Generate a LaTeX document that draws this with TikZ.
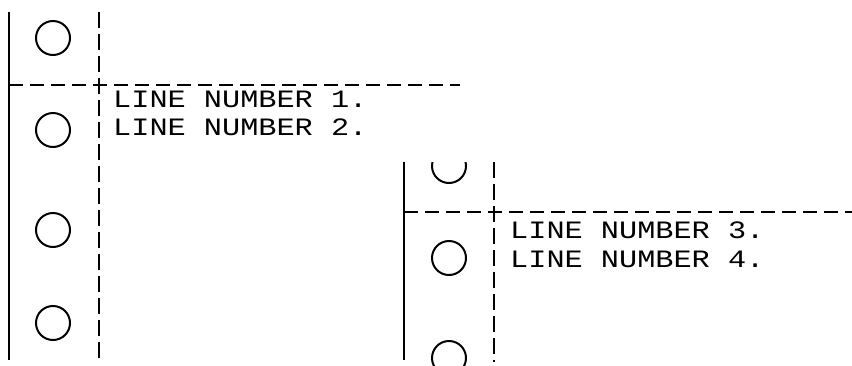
\documentclass[tikz,border=0pt]{standalone}
\usepackage{fontspec}
\newfontfamily\dotfont[FakeStretch=1.21]{Liberation Mono}
\tikzset{
  rail/.style={line width=2.5pt},
  perf/.style={line width=2.5pt, dash pattern=on 16pt off 6pt},
  tear/.style={line width=2.5pt, dash pattern=on 14pt off 7pt},
  hole/.style={line width=2pt},
  printline/.style={font=\dotfont\fontsize{25}{25}\selectfont, anchor=base west, inner sep=0pt}
}
\begin{document}
\begin{tikzpicture}[x=1pt, y=-1pt]
			
			\useasboundingbox (0,0) rectangle (852,365);
			
			% --- first sheet (left) ---
			
			% edge of the paper and perforation
			\draw[rail] (9,12) -- (9,360);
			\draw[perf] (99,12) -- (99,362);
			
			% tear line between two pages
			\draw[tear] (9,85) -- (460,85);
			
			% sprocket holes
			\foreach \y in {38,130,230,323}{
				\draw[hole] (53,\y) circle (17pt);
			}
			
			% printed text
			\node[printline] (line1) at (113,107) {LINE NUMBER 1.};
			\node[printline] (line2) at (113,135) {LINE NUMBER 2.};
			
			% --- second sheet (right), paper starts lower ---
			
			\begin{scope}
				\clip (395,162) rectangle (852,365);
				
				% edge of the paper and perforation
				\draw[rail] (404,162) -- (404,360);
				\draw[perf] (494,162) -- (494,362);
				
				% tear line
				\draw[tear] (404,212) -- (852,212);
				
				% sprocket holes (cut at top and bottom)
				\foreach \y in {166,258,358}{
					\draw[hole] (449,\y) circle (17pt);
				}
			\end{scope}
			
			% printed text
			\node[printline] (line3) at (510,238) {LINE NUMBER 3.};
			\node[printline] (line4) at (510,267) {LINE NUMBER 4.};
			
		\end{tikzpicture}
\end{document}
